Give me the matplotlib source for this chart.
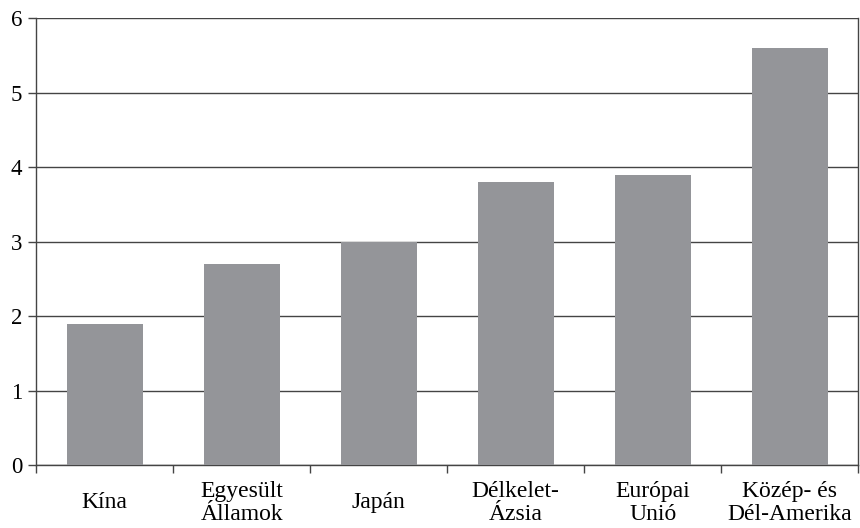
import numpy as np
import matplotlib.pyplot as plt

# adatok
regiok = ['Kína', 'Egyesült\nÁllamok', 'Japán', 'Délkelet-\nÁzsia', 'Európai\nUnió', 'Közép- és\nDél-Amerika']
ertekek = [1.9, 2.7, 3.0, 3.8, 3.9, 5.6]
y_ticks = [0, 1, 2, 3, 4, 5, 6]

plt.rcParams['font.family'] = ['Liberation Serif', 'DejaVu Serif']

fig = plt.figure(figsize=(8.6, 5.28), dpi=100)
ax = fig.add_axes([0.042, 0.119, 0.956, 0.846])

x = np.arange(len(regiok))
ax.bar(x, ertekek, width=0.555, color='#949599', zorder=3)

ax.set_xlim(-0.5, len(regiok) - 0.5)
ax.set_ylim(0, 6)
ax.set_yticks(y_ticks)
ax.yaxis.grid(True, color='#444444', linewidth=1.0, zorder=0)

# kategória-határokon lévő osztásjelek
ax.set_xticks(np.arange(len(regiok) + 1) - 0.5)
ax.set_xticklabels([])
ax.set_xticks(x, minor=True)
ax.set_xticklabels(regiok, minor=True)
ax.tick_params(axis='x', which='minor', length=0, pad=27, labelsize=17)
for lbl in ax.get_xticklabels(minor=True):
    lbl.set_verticalalignment('center')
    lbl.set_linespacing(1.12)
ax.tick_params(axis='x', which='major', length=6, width=1, color='#444444', direction='out')
ax.tick_params(axis='y', length=6, width=1, color='#444444', labelsize=16.5, pad=4)

ax.spines['top'].set_visible(False)
for s in ['left', 'right', 'bottom']:
    ax.spines[s].set_color('#444444')
    ax.spines[s].set_linewidth(1.0)

fig.savefig('out.png', dpi=100)
